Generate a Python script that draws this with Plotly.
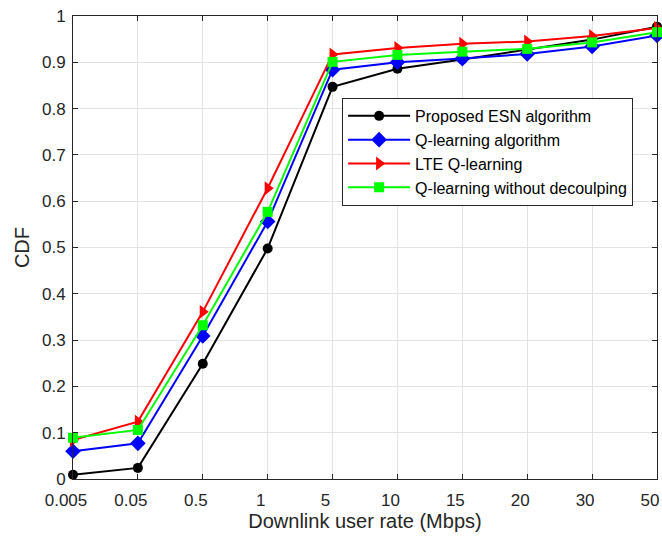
import plotly.graph_objects as go

categories = ["0.005", "0.05", "0.5", "1", "5", "10", "15", "20", "30", "50"]
esn = [0.009, 0.024, 0.249, 0.498, 0.847, 0.886, 0.906, 0.927, 0.949, 0.977]
qlearn = [0.060, 0.077, 0.309, 0.556, 0.884, 0.900, 0.908, 0.918, 0.934, 0.958]
lte = [0.084, 0.124, 0.361, 0.628, 0.917, 0.931, 0.940, 0.945, 0.957, 0.974]
nodecouple = [0.089, 0.106, 0.332, 0.577, 0.901, 0.916, 0.923, 0.929, 0.943, 0.965]

series = [
    ("Proposed ESN algorithm", esn, "black", "circle", 10),
    ("Q-learning algorithm", qlearn, "blue", "diamond", 12),
    ("LTE Q-learning", lte, "red", "triangle-right", 12),
    ("Q-learning without decoulping", nodecouple, "#00ff00", "square", 10),
]

FONT = "Liberation Sans, Arial"
xidx = list(range(len(categories)))
fig = go.Figure()
for name, vals, color, sym, sz in series:
    fig.add_trace(go.Scatter(
        x=xidx, y=vals, name=name, mode="lines+markers",
        line=dict(color=color, width=2),
        marker=dict(symbol=sym, size=sz, color=color),
        cliponaxis=False,
    ))

axis_common = dict(
    showline=True, linecolor="#262626", linewidth=1, mirror="allticks",
    ticks="inside", ticklen=5, tickcolor="#262626",
    showgrid=True, gridcolor="#e3e3e3", gridwidth=1, zeroline=False,
    tickfont=dict(family=FONT, size=17, color="#262626"),
)

fig.update_layout(
    width=662, height=536,
    margin=dict(l=73, r=3, t=16, b=57),
    paper_bgcolor="white", plot_bgcolor="white",
    xaxis=dict(
        tickmode="array", tickvals=xidx, ticktext=categories, range=[0, 9],
        ticklabelstandoff=6, ticklabelshift=-7, ticklabeloverflow="allow",
        title=dict(text="Downlink user rate (Mbps)", standoff=4,
                   font=dict(family=FONT, size=20, color="#262626")),
        **axis_common,
    ),
    yaxis=dict(
        range=[0, 1], dtick=0.1, tickformat="~g",
        ticklabelstandoff=3,
        title=dict(text="CDF", standoff=6,
                   font=dict(family=FONT, size=20, color="#262626")),
        **axis_common,
    ),
    legend=dict(
        x=0.4608, y=0.823, xanchor="left", yanchor="top",
        bgcolor="white", bordercolor="#262626", borderwidth=1,
        font=dict(family=FONT, size=16, color="black"),
        tracegroupgap=0, itemwidth=62,
    ),
    showlegend=True,
)

fig.write_html("out.html")
